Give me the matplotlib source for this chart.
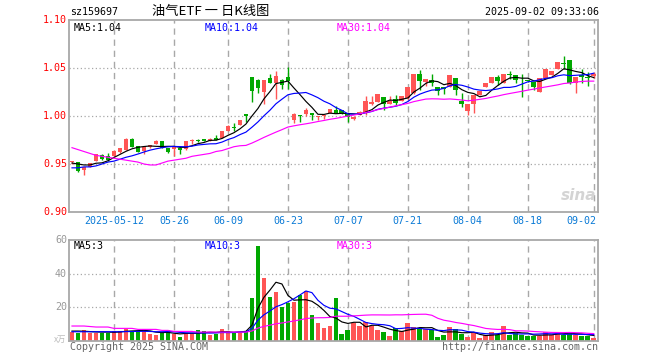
import numpy as np
import pandas as pd
import matplotlib
matplotlib.use('Agg')
import matplotlib.pyplot as plt

plt.rcParams['font.family'] = ['DejaVu Sans Mono', 'Noto Sans CJK SC']

# Trading days shown on the chart (SSE calendar, 2025-04-28 .. 2025-09-02)
holidays = ['2025-05-01', '2025-05-02', '2025-05-05', '2025-06-02']
days = pd.bdate_range('2025-04-28', '2025-09-02')
days = days[~days.isin(pd.to_datetime(holidays))]

opens = [0.952, 0.952, 0.944, 0.947, 0.953, 0.959, 0.958, 0.958, 0.962, 0.965,
         0.976, 0.969, 0.964, 0.968, 0.971, 0.974, 0.967, 0.966, 0.967, 0.966,
         0.974, 0.975, 0.976, 0.974, 0.977, 0.977, 0.984, 0.989, 0.991, 1.002,
         1.041, 1.037, 1.025, 1.040, 1.034, 1.037, 1.041, 0.996, 1.001, 1.002,
         1.003, 0.999, 1.000, 1.003, 1.006, 1.006, 1.003, 0.997, 1.001, 1.004,
         1.012, 1.015, 1.020, 1.012, 1.018, 1.016, 1.019, 1.024, 1.044, 1.035,
         1.038, 1.030, 1.030, 1.030, 1.040, 1.016, 1.005, 1.012, 1.022, 1.030,
         1.034, 1.041, 1.034, 1.044, 1.043, 1.038, 1.038, 1.035, 1.025, 1.040,
         1.043, 1.049, 1.055, 1.058, 1.034, 1.043, 1.041, 1.042]
highs = [0.953, 0.952, 0.947, 0.951, 0.960, 0.960, 0.961, 0.965, 0.967, 0.977,
         0.977, 0.969, 0.968, 0.970, 0.975, 0.974, 0.967, 0.969, 0.968, 0.974,
         0.976, 0.976, 0.976, 0.977, 0.980, 0.984, 0.991, 0.993, 0.996, 1.002,
         1.041, 1.039, 1.038, 1.044, 1.047, 1.039, 1.051, 1.003, 1.001, 1.008,
         1.003, 1.000, 1.001, 1.007, 1.010, 1.006, 1.003, 1.000, 1.005, 1.021,
         1.021, 1.023, 1.020, 1.021, 1.022, 1.021, 1.030, 1.044, 1.048, 1.039,
         1.044, 1.030, 1.030, 1.043, 1.040, 1.024, 1.012, 1.022, 1.026, 1.034,
         1.041, 1.043, 1.044, 1.047, 1.043, 1.044, 1.038, 1.035, 1.040, 1.049,
         1.047, 1.056, 1.062, 1.058, 1.041, 1.049, 1.046, 1.046]
lows = [0.950, 0.942, 0.939, 0.947, 0.953, 0.954, 0.953, 0.958, 0.961, 0.965,
        0.968, 0.962, 0.960, 0.967, 0.971, 0.967, 0.961, 0.958, 0.960, 0.965,
        0.971, 0.973, 0.974, 0.974, 0.975, 0.977, 0.984, 0.984, 0.991, 0.994,
        1.015, 1.024, 1.012, 1.034, 1.018, 1.028, 1.028, 0.993, 0.994, 1.000,
        0.996, 0.996, 0.997, 1.003, 1.003, 1.002, 0.994, 0.996, 1.001, 1.001,
        1.011, 1.015, 1.006, 1.012, 1.011, 1.016, 1.018, 1.023, 1.027, 1.031,
        1.031, 1.022, 1.023, 1.030, 1.022, 1.009, 1.001, 1.003, 1.022, 1.030,
        1.034, 1.032, 1.034, 1.039, 1.034, 1.020, 1.035, 1.027, 1.025, 1.040,
        1.043, 1.049, 1.049, 1.033, 1.024, 1.034, 1.031, 1.040]
closes = [0.953, 0.943, 0.947, 0.951, 0.960, 0.955, 0.954, 0.964, 0.967, 0.976,
          0.968, 0.962, 0.968, 0.970, 0.974, 0.967, 0.963, 0.968, 0.965, 0.974,
          0.975, 0.974, 0.974, 0.976, 0.975, 0.984, 0.990, 0.988, 0.996, 1.000,
          1.026, 1.029, 1.038, 1.034, 1.042, 1.032, 1.036, 1.002, 1.000, 1.006,
          1.001, 1.000, 1.001, 1.007, 1.003, 1.003, 0.999, 0.999, 1.004, 1.016,
          1.015, 1.023, 1.013, 1.016, 1.014, 1.021, 1.030, 1.044, 1.036, 1.039,
          1.034, 1.026, 1.028, 1.043, 1.027, 1.013, 1.012, 1.022, 1.026, 1.034,
          1.041, 1.036, 1.044, 1.043, 1.037, 1.037, 1.036, 1.030, 1.040, 1.049,
          1.047, 1.056, 1.054, 1.034, 1.041, 1.041, 1.040, 1.044]
# volume, 10k lots
volume = [5.5, 5.0, 6.5, 5.0, 5.0, 5.0, 5.0, 5.9, 5.9, 7.1,
          5.9, 5.9, 6.9, 4.2, 3.4, 4.6, 6.5, 4.4, 2.2, 4.8,
          4.8, 6.7, 6.1, 3.6, 4.2, 7.1, 6.1, 4.8, 4.8, 5.9,
          25.3, 56.4, 37.4, 26.1, 29.3, 20.2, 22.6, 23.0, 27.1, 29.7,
          15.6, 10.9, 7.5, 8.9, 25.3, 4.0, 6.5, 10.9, 8.9, 11.5,
          8.9, 6.5, 5.3, 2.8, 7.5, 6.1, 10.7, 8.1, 7.5, 6.9,
          6.5, 2.2, 3.4, 8.1, 6.9, 4.0, 2.2, 4.8, 1.8, 3.4,
          5.3, 3.6, 8.9, 3.4, 4.8, 3.4, 3.0, 3.0, 3.0, 5.5,
          3.8, 5.5, 3.8, 5.0, 3.6, 3.2, 2.8, 2.0]

# moving-average values before enough history exists
ma5_head = [0.951, 0.950, 0.949, 0.949]
ma10_head = [0.946, 0.946, 0.947, 0.947, 0.948, 0.950, 0.952, 0.953, 0.955]
ma30_head = [0.967, 0.965, 0.963, 0.961, 0.959, 0.958, 0.957, 0.956, 0.955, 0.954,
             0.953, 0.952, 0.950, 0.949, 0.949, 0.951, 0.953, 0.954, 0.955, 0.956,
             0.958, 0.959, 0.960, 0.961, 0.963, 0.964, 0.966, 0.968, 0.969]
vma5_head = [5.9, 5.9, 5.8, 5.6]
vma10_head = [5.5] * 9
vma30_head = [8.9, 8.9, 8.9, 8.6, 8.3, 8.3, 8.3, 7.5, 7.5, 7.5,
              7.5, 6.9, 6.9, 6.9, 6.9, 6.3, 6.3, 5.7, 5.7, 5.7,
              5.7, 5.3, 5.3, 5.3, 5.3, 5.3, 5.3, 5.3, 5.3]

tick_dates = ['2025-05-12', '2025-05-26', '2025-06-09', '2025-06-23', '2025-07-07',
              '2025-07-21', '2025-08-04', '2025-08-18', '2025-09-02']
tick_labels = ['2025-05-12', '05-26', '06-09', '06-23', '07-07',
               '07-21', '08-04', '08-18', '09-02']
price_ticks = [0.90, 0.95, 1.00, 1.05, 1.10]
vol_ticks = [20, 40, 60]


def moving(vals, n, head):
    m = pd.Series(vals).rolling(n).mean().to_numpy()
    m[:n - 1] = head
    return m


RED = '#ff5555'
GREEN = '#00a800'
GRID = '#a8a8a8'

o = np.array(opens); h = np.array(highs); l = np.array(lows); c = np.array(closes)
x = np.arange(len(c))
up = c > o
col = np.where(up, RED, GREEN)
tick_pos = [list(days.strftime('%Y-%m-%d')).index(d) for d in tick_dates]

W, H = 660, 360
fig = plt.figure(figsize=(6.6, 3.6), dpi=100)


def fx(px):
    return px / W


def fy(py):
    return 1 - py / H


ax = fig.add_axes([fx(69), fy(212), fx(598 - 69), (212 - 20) / H])
av = fig.add_axes([fx(69), fy(341), fx(598 - 69), (341 - 240) / H])

for a in (ax, av):
    a.set_xlim(-0.5, 87.7)
    a.set_xticks([])
    a.set_yticks([])
    for s in a.spines.values():
        s.set_color(GRID)
        s.set_linewidth(1.3)
    for t in tick_pos:
        a.axvline(t, color=GRID, lw=1.0, dashes=(4.5, 3.5), zorder=0)

ax.set_ylim(0.90, 1.10)
for p in price_ticks[1:-1]:
    ax.axhline(p, color=GRID, lw=0.9, dashes=(1, 2), zorder=0)
av.set_ylim(0, 60)
for v in vol_ticks[:-1]:
    av.axhline(v, color=GRID, lw=0.9, dashes=(1, 2), zorder=0)

# candles
ax.vlines(x, l, h, colors=col, lw=1.0, zorder=2)
body = np.maximum(np.abs(c - o), 0.0009)
ax.bar(x, body, bottom=np.minimum(o, c), width=0.8, color=col, zorder=3, linewidth=0)

ax.plot(x, moving(closes, 5, ma5_head), color='black', lw=0.85, zorder=4)
ax.plot(x, moving(closes, 10, ma10_head), color='blue', lw=0.85, zorder=4)
ax.plot(x, moving(closes, 30, ma30_head), color='#ff00ff', lw=0.85, zorder=4)

# volume
av.bar(x, volume, width=0.8, color=col, linewidth=0, zorder=2)
av.plot(x, moving(volume, 5, vma5_head), color='black', lw=0.85, zorder=4)
av.plot(x, moving(volume, 10, vma10_head), color='blue', lw=0.85, zorder=4)
av.plot(x, moving(volume, 30, vma30_head), color='#ff00ff', lw=0.85, zorder=4)

fs = 7.2
# header
fig.text(fx(70), fy(12), 'sz159697', fontsize=fs, va='center', ha='left')
fig.text(fx(211), fy(12), '油气ETF 一 日K线图', fontsize=9.5, va='center', ha='center',
         family=['Noto Sans CJK SC', 'DejaVu Sans'])
fig.text(fx(599), fy(12), '2025-09-02 09:33:06', fontsize=fs, va='center', ha='right')

# price labels
for p in price_ticks:
    py = 212 - (p - 0.90) / 0.20 * (212 - 20)
    fig.text(fx(67), fy(py), '%.2f' % p, color='red', fontsize=fs, ha='right', va='center')

# MA labels
fig.text(fx(74), fy(28), 'MA5:1.04', color='black', fontsize=fs, va='center')
fig.text(fx(205), fy(28), 'MA10:1.04', color='blue', fontsize=fs, va='center')
fig.text(fx(337), fy(28), 'MA30:1.04', color='#ff00ff', fontsize=fs, va='center')

# date labels
for t, lab in zip(tick_pos, tick_labels):
    px = 69 + (t + 0.5) * (598 - 69) / 88.2
    if lab == tick_labels[-1]:
        fig.text(fx(596), fy(221), lab, color='#0a7ad6', fontsize=fs, ha='right', va='center')
    else:
        fig.text(fx(px), fy(221), lab, color='#0a7ad6', fontsize=fs, ha='center', va='center')

# volume labels
for v in vol_ticks:
    py = 341 - v / 60 * (341 - 240)
    fig.text(fx(67), fy(py), '%d' % v, color='#999999', fontsize=fs, ha='right', va='center')
fig.text(fx(66), fy(339), 'x万', color='#bbbbbb', fontsize=6, ha='right', va='center',
         family=['Noto Sans CJK SC', 'DejaVu Sans'])

fig.text(fx(74), fy(246), 'MA5:3', color='black', fontsize=fs, va='center')
fig.text(fx(205), fy(246), 'MA10:3', color='blue', fontsize=fs, va='center')
fig.text(fx(337), fy(246), 'MA30:3', color='#ff00ff', fontsize=fs, va='center')

fig.text(fx(70), fy(347), 'Copyright 2025 SINA.COM', color='#666666', fontsize=fs, va='center')
fig.text(fx(598), fy(347), 'http://finance.sina.com.cn', color='#666666', fontsize=fs,
         va='center', ha='right')

# watermark
fig.text(fx(596), fy(196), 'sina', color='#d4d4d4', fontsize=11, style='italic',
         weight='bold', ha='right', va='center', family='DejaVu Sans')

fig.savefig('out.png', dpi=100)
